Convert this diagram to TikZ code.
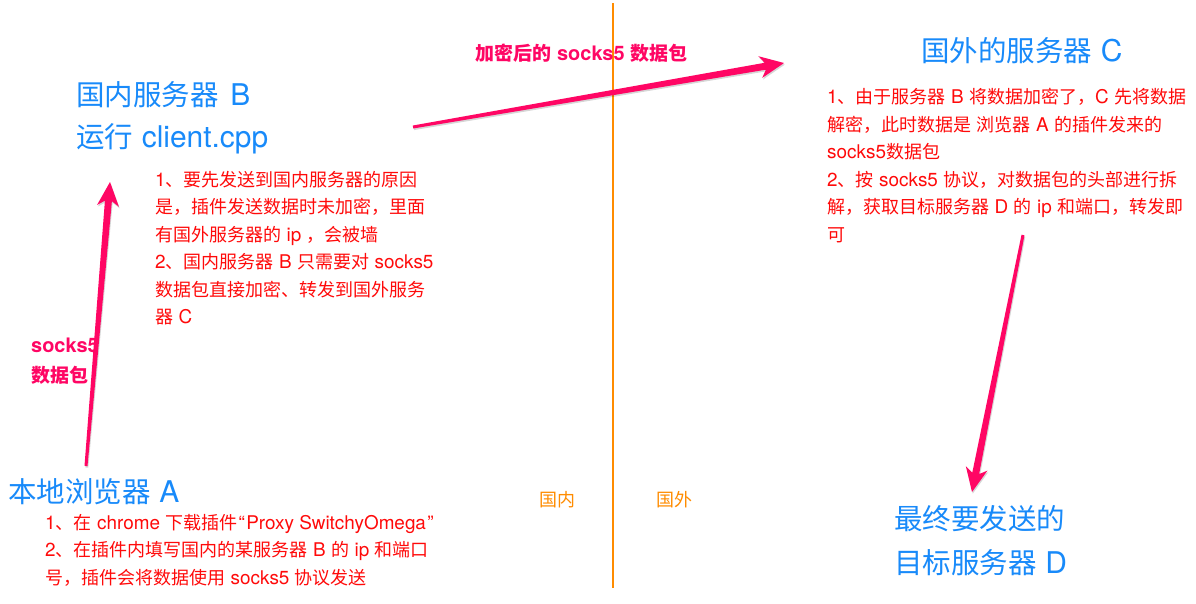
\documentclass[tikz,border=0pt]{standalone}
\usepackage{fontspec}
\setmainfont{Noto Sans CJK SC}[WordSpace=1.35]
\newfontfamily\hvfont{TeX Gyre Heros}[Scale=1.05]
\newcommand\hv[1]{{\hvfont #1}}
\usetikzlibrary{calc}
\definecolor{tblue}{RGB}{24,138,250}
\definecolor{nred}{RGB}{255,10,10}
\definecolor{apink}{RGB}{255,6,100}
\definecolor{sorange}{RGB}{255,140,0}
\newcommand\keyarrow[3]{%
  \path ($(#2)!19pt!(#1)$) coordinate (#1b) ($(#2)!24pt!(#1)$) coordinate (#1w);
  \fill[#3] ($(#1)!1.5pt!90:(#2)$) -- ($(#1b)!3.5pt!90:(#2)$) -- ($(#1w)!11pt!90:(#2)$) -- (#2)
    -- ($(#1w)!11pt!-90:(#2)$) -- ($(#1b)!3.5pt!-90:(#2)$) -- ($(#1)!1.5pt!-90:(#2)$) -- cycle;}
\begin{document}
\begin{tikzpicture}[x=1pt,y=-1pt,
  title/.style={text=tblue,font=\fontsize{28.5}{34}\selectfont,anchor=west,inner sep=0pt},
  note/.style={text=nred,font=\fontsize{18}{27.5}\selectfont,anchor=north west,align=left,inner sep=0pt},
  lbl/.style={text=apink,font=\bfseries\fontsize{19}{30}\selectfont,anchor=west,inner sep=0pt},
  side/.style={text=sorange,font=\fontsize{18}{22}\selectfont,anchor=west,inner sep=0pt},
  shadowfill/.style={black,opacity=.16,transform canvas={shift={(0.8pt,-1.6pt)}}},
  arrowfill/.style={apink}]
\useasboundingbox (0,0) rectangle (1196,603);
\fill[white] (0,0) rectangle (1196,603);

% divider
\coordinate (dtop) at (613,3);
\coordinate (dbot) at (613,588);
\draw[sorange,line width=2pt] (dtop) -- (dbot);
\node[side] (inland) at (539,500) {国内};
\node[side] (abroad) at (656,500) {国外};

% B
\node[title] (titleB) at (76,95) {国内服务器\hspace{3pt} \hv{B}};
\node[title] (runB) at (76,139) {运行 \hv{client.cpp}};
\node[note] (noteB) at (155,171) {\hv{1}、要先发送到国内服务器的原因\\是，插件发送数据时未加密，里面\\有国外服务器的 \hv{ip} ，会被墙\\\hv{2}、国内服务器 \hv{B} 只需要对 \hv{socks5}\\数据包直接加密、转发到国外服务\\器 \hv{C}};

% A
\node[title] (titleA) at (8,492) {本地浏览器 \hv{A}};
\node[note] (noteA) at (45,514) {\hv{1}、在 \hv{chrome} 下载插件\hv{\hspace{1pt}“\hspace{1.5pt}Proxy SwitchyOmega\hspace{1.5pt}”}\\\hv{2}、在插件内填写国内的某服务器 \hv{B} 的 \hv{ip} 和端口\\号，插件会将数据使用 \hv{socks5} 协议发送};

% C
\node[title] (titleC) at (921,51) {国外的服务器 \hv{C}};
\node[note] (noteC) at (827,88) {\hv{1}、由于服务器 \hv{B} 将数据加密了，\hv{C} 先将数据\\解密，此时数据是 浏览器 \hv{A} 的插件发来的\\\hv{socks5}数据包\\\hv{2}、按 \hv{socks5} 协议，对数据包的头部进行拆\\解，获取目标服务器 \hv{D} 的 \hv{ip} 和端口，转发即\\可};

% D
\node[title] (titleD) at (894,519) {最终要发送的};
\node[title] (targetD) at (894,563) {目标服务器 \hv{D}};

% labels
\node[lbl] (lblAB1) at (31,345) {\hv{socks5}};
\node[lbl] (lblAB2) at (31,375) {数据包};
\node[lbl] (lblBC) at (475,53) {加密后的 \hv{socks5} 数据包};

% arrows
\coordinate (ta) at (86,466);
\coordinate (hb) at (110,182);
\coordinate (tb) at (413,127);
\coordinate (hc) at (784,63);
\coordinate (tc) at (1023,235);
\coordinate (hd) at (972,492);
\keyarrow{ta}{hb}{shadowfill}
\keyarrow{tb}{hc}{shadowfill}
\keyarrow{tc}{hd}{shadowfill}
\keyarrow{ta}{hb}{arrowfill}
\keyarrow{tb}{hc}{arrowfill}
\keyarrow{tc}{hd}{arrowfill}
\end{tikzpicture}
\end{document}
